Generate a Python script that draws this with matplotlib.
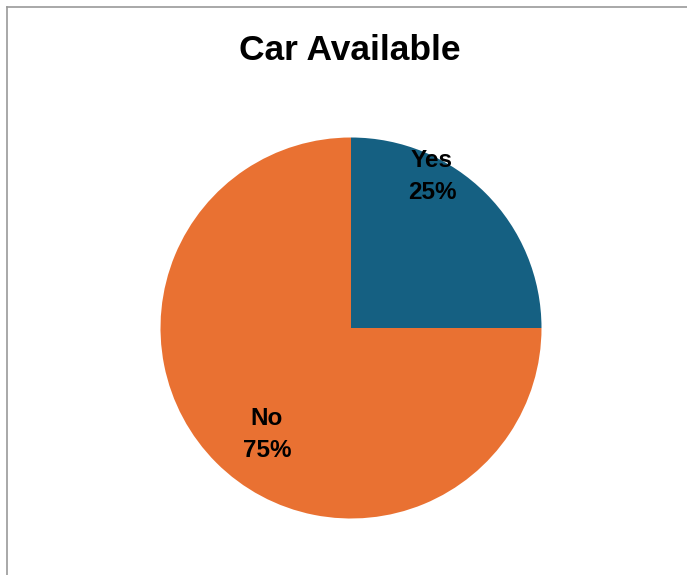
import matplotlib
matplotlib.use("Agg")
import matplotlib.pyplot as plt
from matplotlib.lines import Line2D

# Survey answers: is a car available?
categories = ["Yes", "No"]
shares = [25, 75]
colors = ["#156082", "#E97132"]

W, H, DPI = 687, 575, 100
fig = plt.figure(figsize=(W / DPI, H / DPI), dpi=DPI)
fig.patch.set_facecolor("white")

# Pie placement (pixels): centre and radius
cx, cy, r = 351, 328, 190.5
ax = fig.add_axes([(cx - r) / W, (H - cy - r) / H, 2 * r / W, 2 * r / H])
ax.axis("off")

ax.pie(shares, colors=colors, startangle=90, counterclock=False,
       radius=1, wedgeprops=dict(linewidth=0))
ax.set_xlim(-1, 1)
ax.set_ylim(-1, 1)
ax.set_aspect("equal")

label_font = dict(family="Liberation Sans", fontsize=17.5, fontweight="bold",
                  color="black", ha="center", va="center")
label_pos = {"Yes": (0.425, 0.88, 0.712), "No": (-0.441, -0.474, -0.642)}
total = sum(shares)
for cat, val in zip(categories, shares):
    x, y1, y2 = label_pos[cat]
    ax.text(x, y1, cat, **label_font)
    ax.text(x, y2, f"{round(100 * val / total)}%", **label_font)

fig.text(350 / W, 1 - 50 / H, "Car Available", family="Liberation Sans",
         fontsize=25.5, fontweight="bold", ha="center", va="center")

# Frame lines on the left and top edges
fig.add_artist(Line2D([6.5 / W, 6.5 / W], [0, 1 - 7 / H], transform=fig.transFigure,
                      color="#9A9A9A", linewidth=1.2))
fig.add_artist(Line2D([6.5 / W, 1], [1 - 7 / H, 1 - 7 / H], transform=fig.transFigure,
                      color="#9A9A9A", linewidth=1.2))

fig.savefig("out.png", dpi=DPI, facecolor="white")
